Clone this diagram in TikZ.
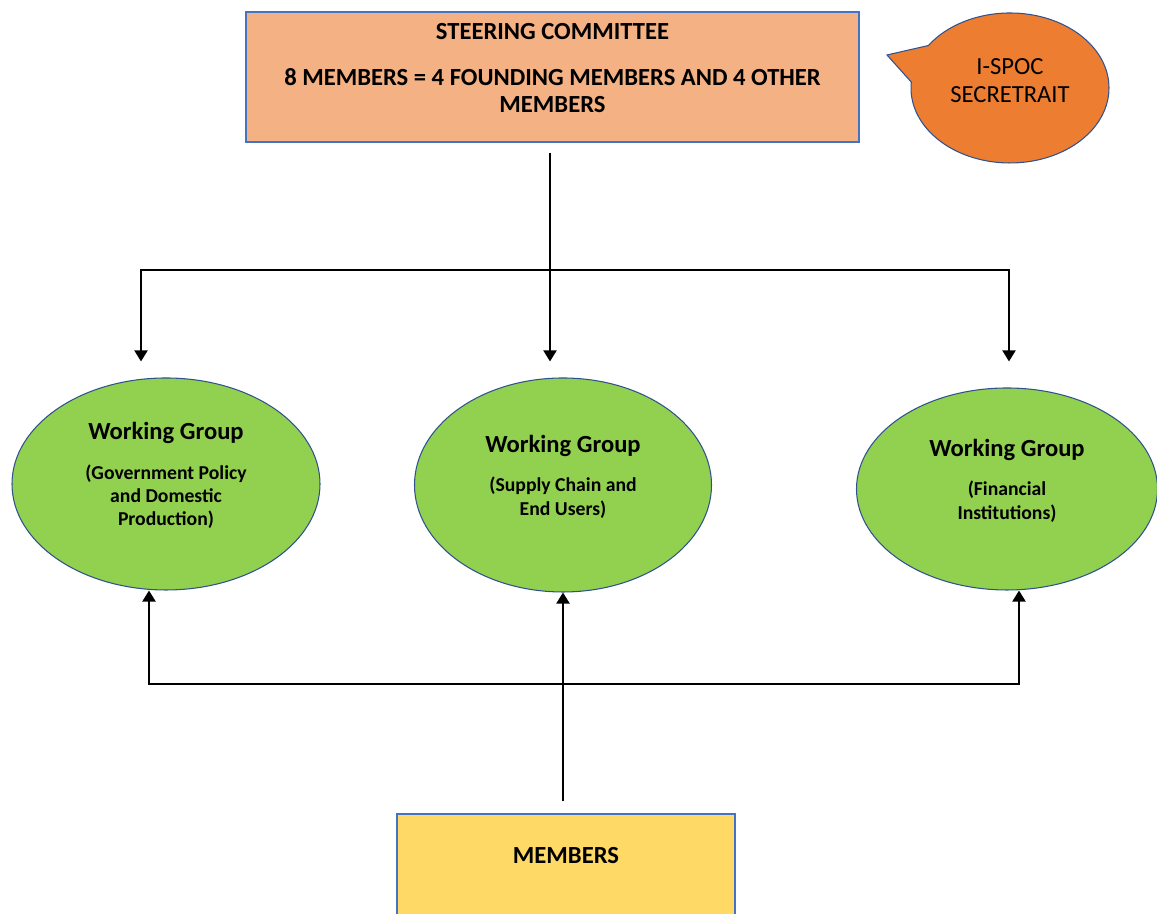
\documentclass[tikz,border=0pt]{standalone}
\usepackage{fontspec}
\setmainfont{Carlito}
\usetikzlibrary{positioning,arrows.meta,shapes.geometric,shapes.callouts}
\definecolor{boxblue}{HTML}{4472C4}
\definecolor{ringblue}{HTML}{2F528F}
\definecolor{steerfill}{HTML}{F4B183}
\definecolor{spocfill}{HTML}{ED7D31}
\definecolor{groupgreen}{HTML}{92D050}
\definecolor{memfill}{HTML}{FFD966}
\newcommand{\wgname}{{\fontsize{14}{16}\selectfont Working Group}}

\begin{document}
\begin{tikzpicture}[
    orgbox/.style={draw=boxblue, line width=0.6pt, rectangle, inner sep=0pt},
    group/.style={draw=ringblue, line width=0.6pt, ellipse, fill=groupgreen, inner sep=0pt, align=center,
      text depth=11pt, font=\fontsize{11.2}{13.3}\selectfont\bfseries},
    lbl/.style={font=\fontsize{14}{15}\selectfont\bfseries, align=center, anchor=center},
    conn/.style={line width=1.1pt},
    >={Triangle[length=2.2mm,width=2.6mm]}
  ]
    \path[use as bounding box] (0,0) rectangle (23.14,18.28);
    \clip (0,0) rectangle (23.14,18.28);

    \node[orgbox, fill=steerfill, minimum width=12.26cm, minimum height=2.6cm,
      label={[lbl, yshift=-0.4cm]north:STEERING COMMITTEE},
      label={[lbl, yshift=-1.58cm]north:{8 MEMBERS = 4 FOUNDING MEMBERS AND 4 OTHER\\MEMBERS}}] (steer) at (11.05,16.74) {};
    \node[ellipse callout, draw=ringblue, fill=spocfill, line width=0.6pt, minimum width=3.96cm, minimum height=3cm,
      callout absolute pointer={(17.74,17.18)}, callout pointer arc=30, align=center, text depth=9pt,
      font=\fontsize{14}{15.9}\selectfont] (spoc) at (20.2,16.52) {I-SPOC\\SECRETRAIT};

    \node[group, minimum width=6.16cm, minimum height=4.24cm] (govgroup) at (3.32,8.6) {\wgname\\[9pt](Government Policy\\and Domestic\\Production)};
    \node[group, minimum width=5.94cm, minimum height=4.28cm] (supgroup) at (11.26,8.58) {\wgname\\[9pt](Supply Chain and\\End Users)};
    \node[group, minimum width=6.02cm, minimum height=4.04cm] (fingroup) at (20.14,8.5) {\wgname\\[9pt](Financial\\Institutions)};

    \node[orgbox, fill=memfill, minimum width=6.76cm, minimum height=2.6cm,
      label={[lbl, yshift=-0.84cm]north:MEMBERS}] (members) at (11.32,0.7) {};

    \coordinate (topsplit) at (11,12.88);
    \coordinate (botsplit) at (11.26,4.6);

    \draw[conn, shorten <=2mm] (steer.south -| topsplit) -- (topsplit);
    \draw[conn, ->, shorten >=3.2mm] (topsplit) -| ([xshift=-5mm]govgroup.north);
    \draw[conn, ->, shorten >=3.2mm] (topsplit) -- (topsplit |- supgroup.north);
    \draw[conn, ->, shorten >=5.2mm] (topsplit) -| ([xshift=0.4mm]fingroup.north);

    \draw[conn, ->, shorten <=2.4mm] (members.north -| supgroup.south) -- (supgroup.south);
    \draw[conn, ->] (botsplit) -| ([xshift=-3.4mm]govgroup.south);
    \draw[conn, ->] (botsplit) -| ([xshift=2.4mm]fingroup.south);
  \end{tikzpicture}
\end{document}
